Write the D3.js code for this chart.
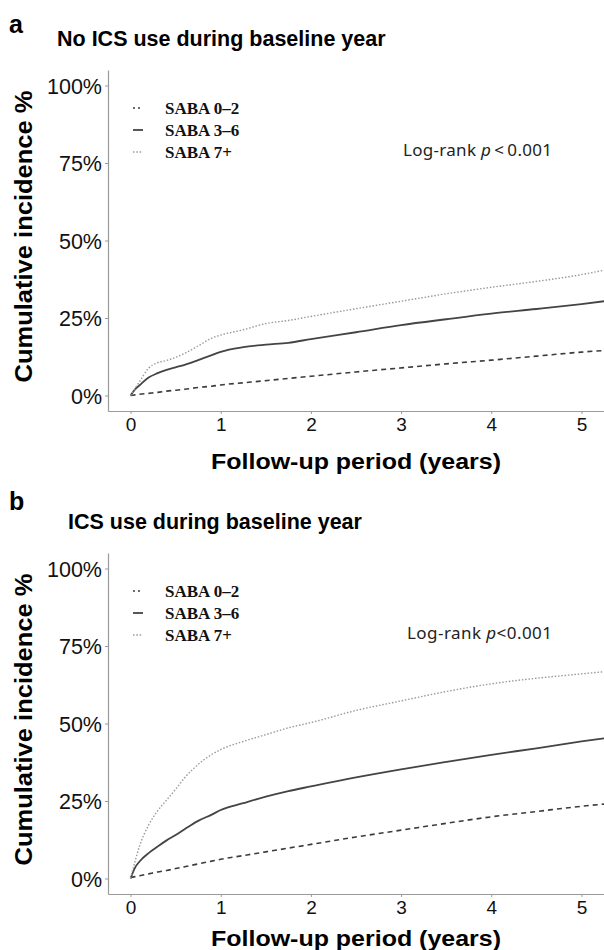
<!DOCTYPE html>
<html>
<head>
<meta charset="utf-8">
<script src="https://cdn.jsdelivr.net/npm/d3@7"></script>
<style>
  html, body { margin: 0; padding: 0; background: #fff; }
  svg { display: block; }
</style>
</head>
<body>
<div id="chart"></div>
<script>
const times = [0, 0.05, 0.1, 0.2, 0.3, 0.4, 0.5, 0.6, 0.75, 0.9, 1, 1.25, 1.5, 1.75, 2, 2.5, 3, 3.5, 4, 4.5, 5, 5.25];

// panel a: no ICS use during baseline year (cumulative incidence %)
const noIcsSaba02 = [0, 0.2, 0.4, 0.7, 1.0, 1.4, 1.7, 2.0, 2.6, 3.0, 3.4, 4.1, 4.8, 5.5, 6.2, 7.6, 8.9, 10.2, 11.4, 12.7, 14.0, 14.5];
const noIcsSaba36 = [0, 2.0, 3.3, 5.8, 7.2, 8.3, 9.1, 9.9, 11.4, 13.0, 14.1, 15.6, 16.4, 17.0, 18.2, 20.4, 22.7, 24.6, 26.4, 27.9, 29.5, 30.4];
const noIcsSaba7 = [0, 2.2, 4.5, 8.8, 10.6, 11.3, 12.3, 13.6, 16.0, 18.5, 19.5, 21.2, 23.2, 24.2, 25.5, 28.0, 30.4, 32.8, 34.9, 36.8, 39.0, 40.4];

// panel b: ICS use during baseline year
const icsSaba02 = [0.3, 0.6, 0.9, 1.5, 2.1, 2.6, 3.2, 3.8, 4.7, 5.6, 6.2, 7.4, 8.6, 9.8, 11.0, 13.4, 15.6, 17.8, 19.9, 21.6, 23.3, 24.0];
const icsSaba36 = [0, 3.5, 5.5, 8.2, 10.3, 12.3, 14.0, 15.9, 18.6, 20.6, 22.1, 24.3, 26.4, 28.2, 29.7, 32.6, 35.2, 37.6, 39.9, 42.0, 44.2, 45.2];
const icsSaba7 = [0, 5.5, 10.5, 17.2, 21.8, 25.3, 28.8, 32.5, 36.8, 40.0, 41.6, 44.2, 46.4, 48.6, 50.3, 54.2, 57.3, 60.3, 62.8, 64.6, 66.0, 66.7];

const seriesLabels = ["SABA 0\u20132", "SABA 3\u20136", "SABA 7+"];
const xTicks = [0, 1, 2, 3, 4, 5];
const yTicks = [0, 25, 50, 75, 100];

const W = 604, H = 950;
const sans = "'Liberation Sans', Arial, sans-serif";

const lineStyles = [
    { stroke: "#3c3c3c", width: 1.6, dash: "5,4", keyDash: "2,3" },
    { stroke: "#444444", width: 1.8, dash: null, keyDash: null },
    { stroke: "#9a9a9a", width: 1.4, dash: "1.5,1.8", keyDash: "1.5,1.8" },
];

const svg = d3.select("#chart").append("svg")
    .attr("width", W)
    .attr("height", H)
    .style("font-family", sans);

function drawPanel(cfg) {
    const left = 108, right = 604;
    const top = cfg.top, bottom = cfg.top + 341;

    const x = d3.scaleLinear().domain([-0.25, 5.25]).range([left, right]);
    const y = d3.scaleLinear().domain([-5, 105]).range([bottom, top]);

    // panel letter and title
    svg.append("text")
        .attr("x", 9).attr("y", cfg.top - 37 + cfg.letterDy)
        .attr("font-size", 25).attr("font-weight", "bold")
        .text(cfg.letter);

    svg.append("text")
        .attr("x", cfg.titleX).attr("y", cfg.top - 24)
        .attr("font-size", 21.5).attr("font-weight", "bold")
        .text(cfg.title);

    // axes
    const xAxis = svg.append("g")
        .attr("transform", `translate(0,${bottom})`)
        .call(d3.axisBottom(x).tickValues(xTicks).tickFormat(d3.format("d"))
            .tickSize(3).tickSizeOuter(0).tickPadding(4));
    xAxis.selectAll("text").attr("font-size", 19).attr("fill", "#111").attr("font-family", sans);

    const yAxis = svg.append("g")
        .attr("transform", `translate(${left},0)`)
        .call(d3.axisLeft(y).tickValues(yTicks).tickFormat(d => d + "%").tickSize(3).tickSizeOuter(0).tickPadding(3));
    yAxis.selectAll("text").attr("font-size", 21.5).attr("fill", "#111").attr("font-family", sans).attr("dy", "0.36em");

    [xAxis, yAxis].forEach(ax => {
        ax.select(".domain").attr("stroke", "#9a9a9a").attr("stroke-width", 1.2);
        ax.selectAll(".tick line").attr("stroke", "#9a9a9a");
    });

    // axis titles
    svg.append("text")
        .attr("x", 356).attr("y", bottom + cfg.xTitleDy)
        .attr("text-anchor", "middle")
        .attr("font-size", 22).attr("font-weight", "bold")
        .attr("textLength", 290).attr("lengthAdjust", "spacingAndGlyphs")
        .text("Follow-up period (years)");

    svg.append("text")
        .attr("transform", `translate(32,${(top + bottom) / 2 - 4}) rotate(-90)`)
        .attr("text-anchor", "middle")
        .attr("font-size", 23).attr("font-weight", "bold")
        .attr("textLength", 292).attr("lengthAdjust", "spacingAndGlyphs")
        .text("Cumulative incidence %");

    // curves
    const line = d3.line()
        .x(d => x(d[0]))
        .y(d => y(d[1]))
        .curve(d3.curveMonotoneX);

    cfg.series.forEach((vals, i) => {
        const st = lineStyles[i];
        svg.append("path")
            .datum(times.map((t, j) => [t, vals[j]]))
            .attr("d", line)
            .attr("fill", "none")
            .attr("stroke", st.stroke)
            .attr("stroke-width", st.width)
            .attr("stroke-dasharray", st.dash);
    });

    // legend
    seriesLabels.forEach((lab, i) => {
        const st = lineStyles[i];
        const ly = top + 38 + i * 22;
        svg.append("line")
            .attr("x1", 133).attr("x2", 143)
            .attr("y1", ly).attr("y2", ly)
            .attr("stroke", st.stroke)
            .attr("stroke-width", st.width)
            .attr("stroke-dasharray", st.keyDash);
        svg.append("text")
            .attr("x", 165).attr("y", ly + 5.5)
            .attr("font-family", "'Liberation Serif', 'Times New Roman', serif")
            .attr("font-size", 17).attr("font-weight", "bold")
            .attr("fill", "#111")
            .text(lab);
    });

    // log-rank annotation
    const lr = svg.append("text")
        .attr("x", cfg.lrX).attr("y", top + 86)
        .attr("font-family", "'Noto Sans', 'Open Sans', sans-serif")
        .attr("font-size", 17)
        .attr("fill", "#222")
        .attr("textLength", cfg.lrLen).attr("lengthAdjust", "spacing");
    lr.append("tspan").text("Log-rank ");
    lr.append("tspan").attr("font-style", "italic").text("p");
    lr.append("tspan").text(cfg.lrTail);
}

drawPanel({
    top: 70, letter: "a", letterDy: 0, titleX: 57, xTitleDy: 58, lrX: 403, lrLen: 149, lrTail: "\u2009<\u20090.001",
    title: "No ICS use during baseline year",
    series: [noIcsSaba02, noIcsSaba36, noIcsSaba7],
});

drawPanel({
    top: 553, letter: "b", letterDy: -6, titleX: 68, xTitleDy: 52, lrX: 407, lrLen: 145, lrTail: "<0.001",
    title: "ICS use during baseline year",
    series: [icsSaba02, icsSaba36, icsSaba7],
});
</script>
</body>
</html>
